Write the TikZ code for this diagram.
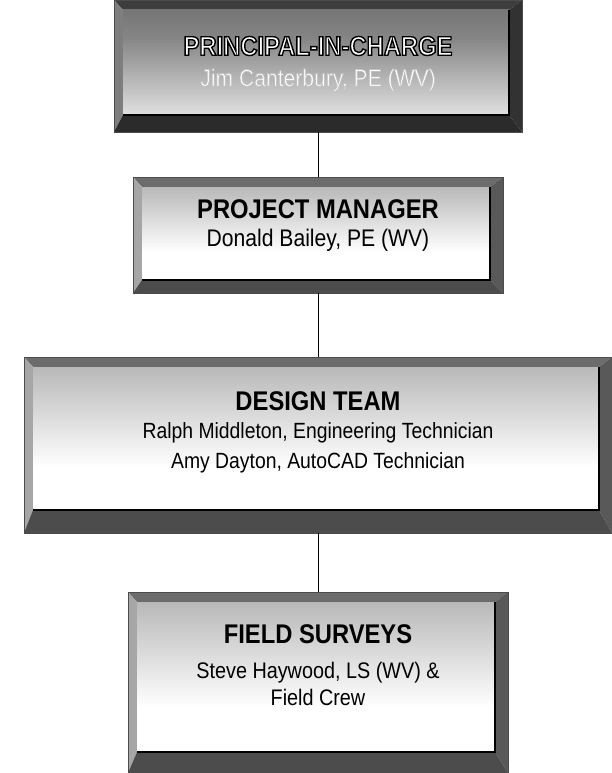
\documentclass[tikz,border=0pt]{standalone}
\usepackage{fontspec}
\setmainfont{Liberation Sans}[FakeStretch=0.88]
\usetikzlibrary{backgrounds}

\pgfdeclareverticalshading{facefade}{100bp}{color(0bp)=(white); color(40bp)=(white); color(78bp)=(black!30); color(100bp)=(black!45)}
\pgfdeclareverticalshading{darkfade}{100bp}{color(0bp)=(white); color(25bp)=(black!12); color(62bp)=(black!48); color(100bp)=(black!65)}

% white letters with a dark rim
\newcommand\rimtext[3]{\special{pdf:literal direct #1 w #2 G 2 Tr}#3\special{pdf:literal direct 0 Tr}}

\begin{document}
\begin{tikzpicture}[x=1pt, y=-1pt,
    frame/.style={rectangle, inner sep=0pt, outer sep=0pt},
    heading/.style={font=\fontsize{27}{30}\selectfont\bfseries, inner sep=1pt},
    names/.style={font=\fontsize{22}{28}\selectfont, align=center, inner sep=1pt},
    link/.style={draw, line width=0.9pt}
]
\useasboundingbox (0,0) rectangle (612,773);

% Boxes
\node[frame, minimum width=408, minimum height=132] (pic) at (318,66) {};
\node[frame, minimum width=370, minimum height=116] (pm) at (318,235) {};
\node[frame, minimum width=588, minimum height=176] (design) at (318,445) {};
\node[frame, minimum width=380, minimum height=181] (field) at (318,682.5) {};

% Texts
\node[heading, text=white] (pic-title) at (318,46) {\rimtext{1.4}{0}{PRINCIPAL-IN-CHARGE}};
\node[names, text=white, font=\fontsize{24}{28}\selectfont] (pic-name) at (318,80) {\rimtext{0.6}{0.75}{Jim Canterbury, PE (WV)}};
\node[heading] (pm-title) at (318,209) {PROJECT MANAGER};
\node[names, font=\fontsize{24}{28}\selectfont] (pm-name) at (318,240) {Donald Bailey, PE (WV)};
\node[heading] (design-title) at (318,401) {DESIGN TEAM};
\node[names, font=\fontsize{22}{30}\selectfont] (design-names) at (318,448) {Ralph Middleton, Engineering Technician\\Amy Dayton, AutoCAD Technician};
\node[heading] (field-title) at (318,634) {FIELD SURVEYS};
\node[names, font=\fontsize{22.5}{27}\selectfont] (field-names) at (318,684) {Steve Haywood, LS (WV) \&\\Field Crew};

% Bevels
\begin{scope}[on background layer]
\foreach \b/\bot/\shd/\tone in {pic/17/darkfade/72, pm/13/facefade/50, design/23/facefade/50, field/21/facefade/50} {
  \coordinate (inw) at ([shift={(9,10)}]\b.north west);
  \coordinate (ine) at ([shift={(-13,10)}]\b.north east);
  \coordinate (ise) at ([shift={(-13,-\bot)}]\b.south east);
  \coordinate (isw) at ([shift={(9,-\bot)}]\b.south west);
  \fill[black!\tone!white!85!black] (\b.north west) -- (\b.north east) -- (ine) -- (inw) -- cycle;
  \fill[black!\tone!white!70!white] (\b.north west) -- (inw) -- (isw) -- (\b.south west) -- cycle;
  \fill[black!\tone!white!70!black] (\b.north east) -- (\b.south east) -- (ise) -- (ine) -- cycle;
  \fill[black!\tone!white!60!black] (\b.south west) -- (isw) -- (ise) -- (\b.south east) -- cycle;
  \shade[shading=\shd] (inw) rectangle (ise);
  \draw[line width=1.2pt] (ine) -- (ise) -- (isw);
  \draw[black!70, line width=0.6pt] (\b.north west) rectangle (\b.south east);
}
\end{scope}

% Connections
\draw[link] (pic) -- (pm);
\draw[link] (pm) -- (design);
\draw[link] (design) -- (field);

\end{tikzpicture}
\end{document}
